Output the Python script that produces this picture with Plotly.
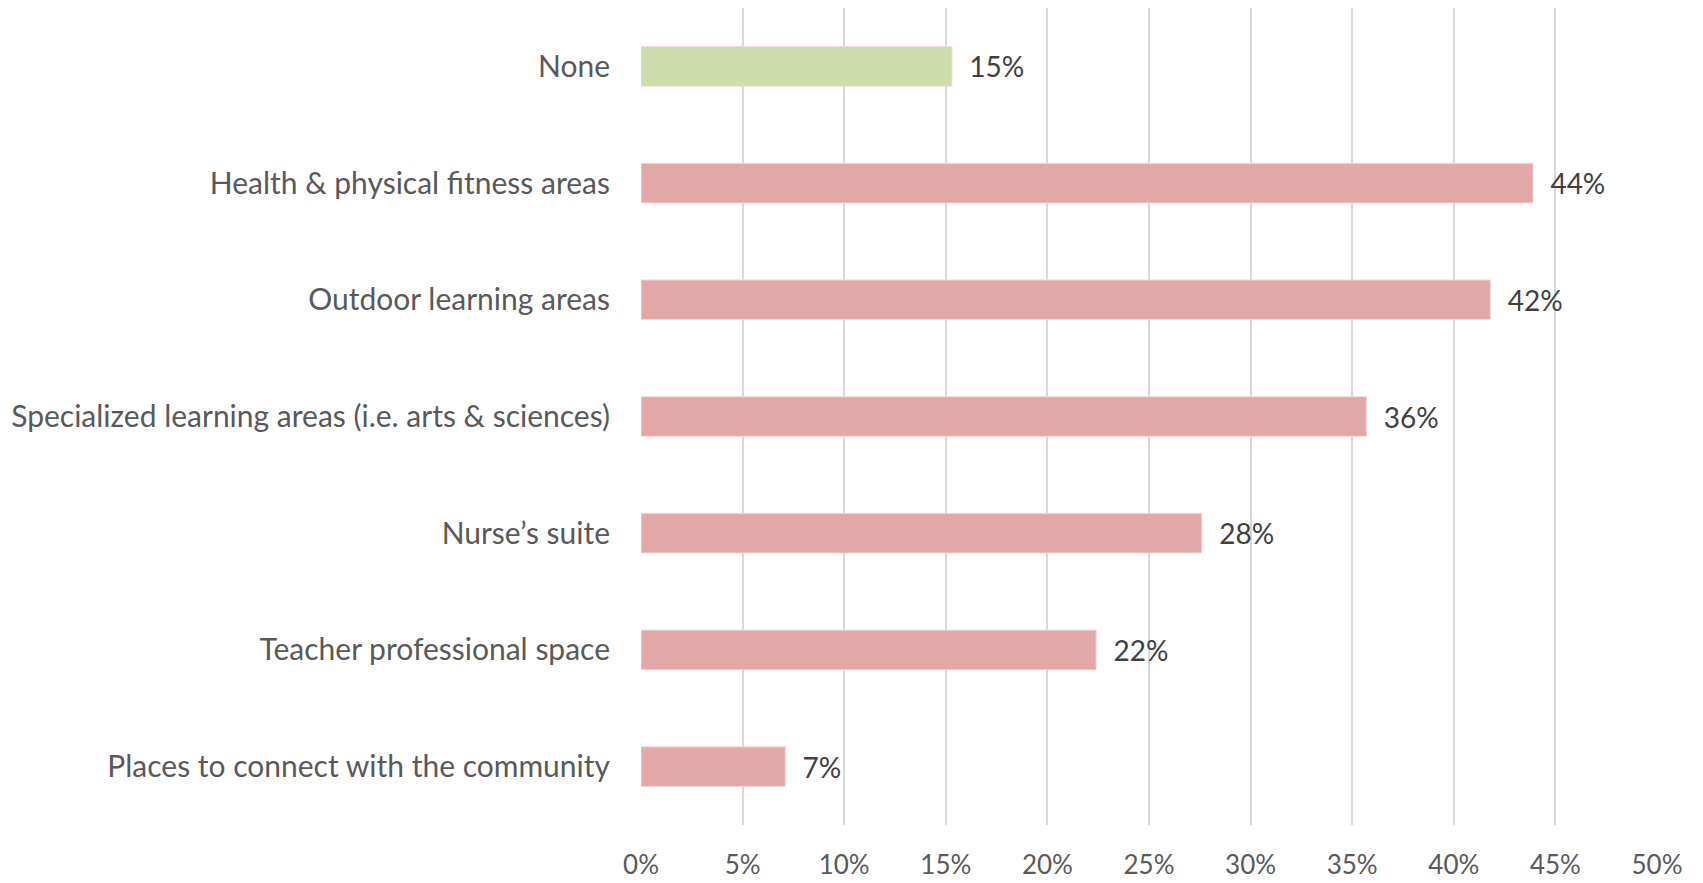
import plotly.graph_objects as go

categories = [
    "None",
    "Health & physical fitness areas",
    "Outdoor learning areas",
    "Specialized learning areas (i.e. arts & sciences)",
    "Nurse’s suite",
    "Teacher professional space",
    "Places to connect with the community",
]
values = [0.153, 0.439, 0.418, 0.357, 0.276, 0.224, 0.071]
bar_colors = ["#CDDDAB", "#E2A8A7", "#E2A8A7", "#E2A8A7", "#E2A8A7", "#E2A8A7", "#E2A8A7"]
tick_vals = [0, 0.05, 0.10, 0.15, 0.20, 0.25, 0.30, 0.35, 0.40, 0.45, 0.50]
tick_text = ["0%", "5%", "10%", "15%", "20%", "25%", "30%", "35%", "40%", "45%", "50%"]

FONT = "Lato"

fig = go.Figure(
    go.Bar(
        x=values,
        y=categories,
        orientation="h",
        marker=dict(color=bar_colors, line=dict(color="#F2DADA", width=1)),
        texttemplate="\u00a0\u00a0%{x:.0%}",
        textposition="outside",
        textfont=dict(family=FONT, size=28, color="#404040"),
        cliponaxis=False,
        hoverinfo="skip",
    )
)

fig.update_layout(
    width=1703,
    height=883,
    paper_bgcolor="white",
    plot_bgcolor="white",
    margin=dict(l=633, r=54, t=0, b=66),
    bargap=0.66,
    showlegend=False,
    font=dict(family=FONT, size=28, color="#595959"),
)
fig.update_xaxes(
    range=[0, 0.5],
    tickvals=tick_vals,
    ticktext=tick_text,
    showgrid=True,
    gridcolor="#D9D9D9",
    gridwidth=2,
    zeroline=False,
    showline=False,
    ticks="",
    ticklabelstandoff=22,
    tickfont=dict(family=FONT, size=26, color="#595959"),
)
fig.update_yaxes(
    autorange="reversed",
    showgrid=False,
    zeroline=False,
    showline=False,
    ticks="",
    ticklabelstandoff=30,
    tickfont=dict(family=FONT, size=30, color="#595959"),
)

fig.write_html("out.html")
